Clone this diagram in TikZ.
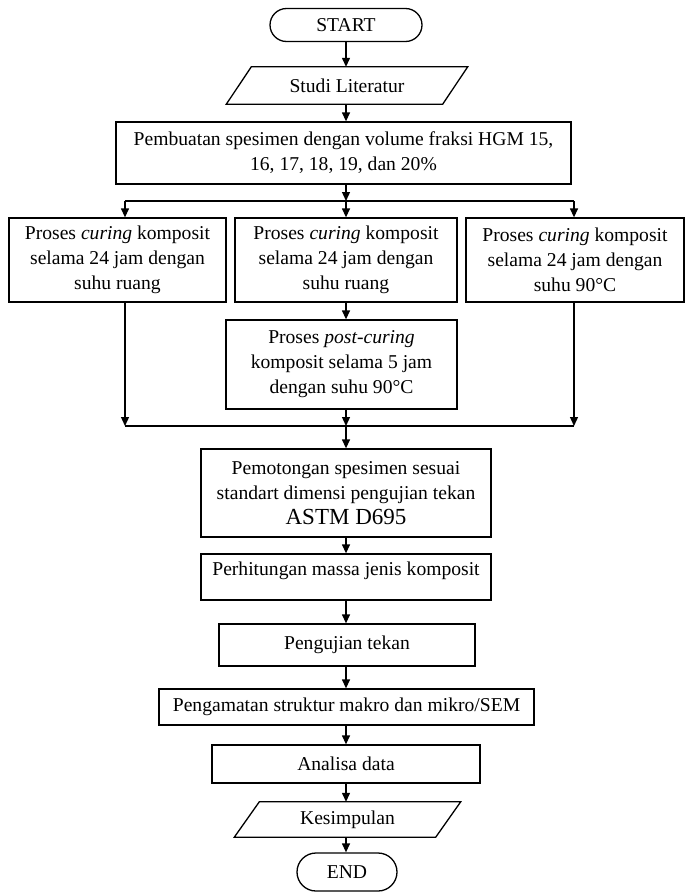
\documentclass[tikz,border=0pt]{standalone}
\usepackage{fontspec}
\setmainfont{Liberation Serif}
\usetikzlibrary{shapes.misc,arrows.meta}
\begin{document}
\begin{tikzpicture}[x=1pt,y=-1pt,
  every node/.style={font=\fontsize{19.6}{25}\selectfont},
  box/.style={draw, line width=1.3pt, align=center, inner sep=0pt},
  term/.style={draw, line width=1.3pt, rounded rectangle, inner sep=0pt},
  ln/.style={line width=1.3pt},
  arr/.style={line width=1.3pt, -{Triangle[length=9pt,width=8pt]}}]
\fill[white] (0,0) rectangle (686,892);
\useasboundingbox (0,0) rectangle (686,892);

\node[term, minimum width=152pt, minimum height=33pt] (start) at (346,25) {START};
\node[align=center, inner sep=0pt, minimum width=216pt, minimum height=37pt] (studi) at (347,85.5) {Studi Literatur};
\draw[ln] ([xshift=-12.5pt]studi.south west) -- ([xshift=12.5pt]studi.north west)
  -- ([xshift=12.5pt]studi.north east) -- ([xshift=-12.5pt]studi.south east) -- cycle;
\node[box, minimum width=455pt, minimum height=62pt] (pemb) at (343.5,153)
  {Pembuatan spesimen dengan volume fraksi HGM 15,\\16, 17, 18, 19, dan 20\%};

\coordinate (jm) at (346,201);
\coordinate (jl) at (125,201);
\coordinate (jr) at (574,201);

\node[box, minimum width=217pt, minimum height=84pt] (lbox) at (117.5,260)
  {Proses \textit{curing} komposit\\selama 24 jam dengan\\suhu ruang};
\node[box, minimum width=222pt, minimum height=84pt] (mbox) at (346,260)
  {Proses \textit{curing} komposit\\selama 24 jam dengan\\suhu ruang};
\node[box, minimum width=218pt, minimum height=84pt] (rbox) at (575,260)
  {Proses \textit{curing} komposit\\selama 24 jam dengan\\suhu 90°C};
\node[box, minimum width=231pt, minimum height=89pt] (post) at (341.5,364.5)
  {Proses \textit{post-curing}\\komposit selama 5 jam\\dengan suhu 90°C};

\coordinate (ml) at (125,426);
\coordinate (mm) at (346,426);
\coordinate (mr) at (574,426);

\node[box, minimum width=290pt, minimum height=88pt] (pot) at (346,493)
  {Pemotongan spesimen sesuai\\standart dimensi pengujian tekan\\{\fontsize{23}{26}\selectfont ASTM D695}};
\node[box, minimum width=290pt, minimum height=46pt,
  label={[anchor=north, inner sep=0pt, yshift=-8pt]north:Perhitungan massa jenis komposit}] (hit) at (346,577) {};
\node[box, minimum width=256pt, minimum height=42pt] (uji) at (347,645) {Pengujian tekan};
\node[box, minimum width=375pt, minimum height=36pt] (amat) at (346.5,707) {Pengamatan struktur makro dan mikro/SEM};
\node[box, minimum width=268pt, minimum height=38pt] (anal) at (346,764) {Analisa data};
\node[align=center, inner sep=0pt, minimum width=201pt, minimum height=35pt] (kes) at (347.5,819.5) {Kesimpulan};
\draw[ln] ([xshift=-12.5pt]kes.south west) -- ([xshift=12.5pt]kes.north west)
  -- ([xshift=12.5pt]kes.north east) -- ([xshift=-12.5pt]kes.south east) -- cycle;
\node[term, minimum width=100pt, minimum height=38pt] (end) at (347,872) {END};

% connectors
\draw[arr] (jm |- start.south) -- (jm |- studi.north);
\draw[arr] (jm |- studi.south) -- (jm |- pemb.north);
\draw[arr] (jm |- pemb.south) -- (jm);
\draw[ln] (jl) -- (jr);
\draw[arr] (jl) -- (jl |- lbox.north);
\draw[arr] (jm) -- (jm |- mbox.north);
\draw[arr] (jr) -- (jr |- rbox.north);
\draw[arr] (jm |- mbox.south) -- (jm |- post.north);
\draw[arr] (ml |- lbox.south) -- (ml);
\draw[arr] (mm |- post.south) -- (mm);
\draw[arr] (mr |- rbox.south) -- (mr);
\draw[ln] (ml) -- (mr);
\draw[arr] (mm) -- (mm |- pot.north);
\draw[arr] (mm |- pot.south) -- (mm |- hit.north);
\draw[arr] (mm |- hit.south) -- (mm |- uji.north);
\draw[arr] (mm |- uji.south) -- (mm |- amat.north);
\draw[arr] (mm |- amat.south) -- (mm |- anal.north);
\draw[arr] (mm |- anal.south) -- (mm |- kes.north);
\draw[arr] (mm |- kes.south) -- (mm |- end.north);
\end{tikzpicture}
\end{document}
